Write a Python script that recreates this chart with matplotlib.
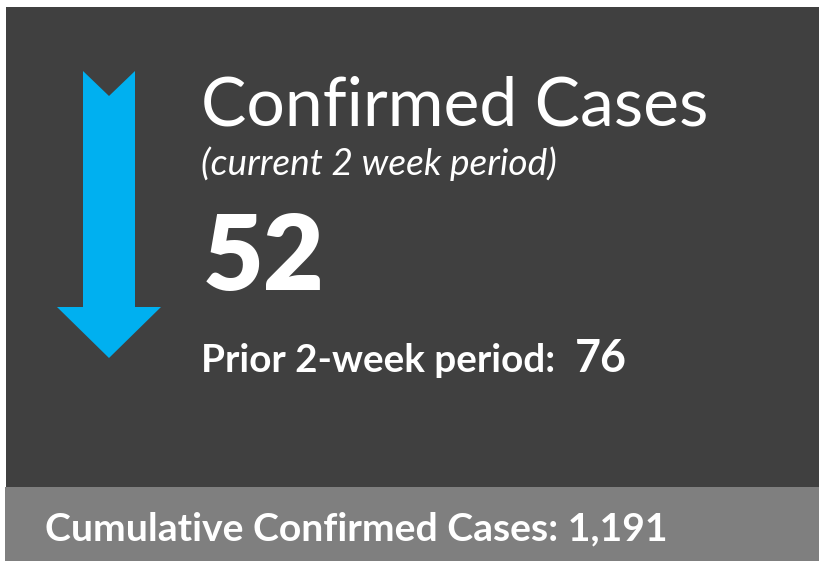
import matplotlib.pyplot as plt
from matplotlib.patches import Rectangle, Polygon

# values shown on the card
labels = ["Confirmed Cases", "(current 2 week period)", "Prior 2-week period:",
          "Cumulative Confirmed Cases:"]
current_cases = [52]
prior_cases = [76]
cumulative_cases = [1191]

W, H = 820, 561
DARK = "#404040"
GREY = "#7f7f7f"
BLUE = "#00b0f0"
FONT = ["Lato", "DejaVu Sans"]

fig = plt.figure(figsize=(W / 100, H / 100), dpi=100)
ax = fig.add_axes([0, 0, 1, 1])
ax.set_xlim(0, W)
ax.set_ylim(H, 0)
ax.axis("off")

# card background and footer band
ax.add_patch(Rectangle((6, 7), W - 6, 480, color=DARK, lw=0))
ax.add_patch(Rectangle((5, 487), W - 5, H - 487, color=GREY, lw=0))

# trend arrow: pointing down when the current period is lower
down = current_cases[0] < prior_cases[0]
cx, top, bot = 109, 71, 358
shaft, head_w, notch, head_h = 26, 52, 25, 51
if down:
    pts = [(cx - shaft, top), (cx, top + notch), (cx + shaft, top),
           (cx + shaft, bot - head_h), (cx + head_w, bot - head_h), (cx, bot),
           (cx - head_w, bot - head_h), (cx - shaft, bot - head_h)]
else:
    pts = [(cx - shaft, bot), (cx, bot - notch), (cx + shaft, bot),
           (cx + shaft, top + head_h), (cx + head_w, top + head_h), (cx, top),
           (cx - head_w, top + head_h), (cx - shaft, top + head_h)]
ax.add_patch(Polygon(pts, closed=True, color=BLUE, lw=0))

fig.canvas.draw()
renderer = fig.canvas.get_renderer()


def fit_text(x, y, s, width, size, **kw):
    # place text at baseline and scale it to the measured width
    t = ax.text(x, y, s, color="white", family=FONT, fontsize=size,
                ha="left", va="baseline", **kw)
    bb = t.get_window_extent(renderer)
    t.set_fontsize(size * width / bb.width)
    return t


fit_text(201, 125, labels[0], 507, 50)
fit_text(201, 175, labels[1], 355, 22, style="italic")
fit_text(203, 290, str(current_cases[0]), 122, 90, weight="heavy")
fit_text(201, 372, labels[2], 354, 28, weight="bold")
fit_text(575, 372, str(prior_cases[0]), 52, 38, weight="bold")
fit_text(45, 540, f"{labels[3]} {cumulative_cases[0]:,}", 622, 28, weight="bold")

fig.savefig("out.png", dpi=100, facecolor="white")
